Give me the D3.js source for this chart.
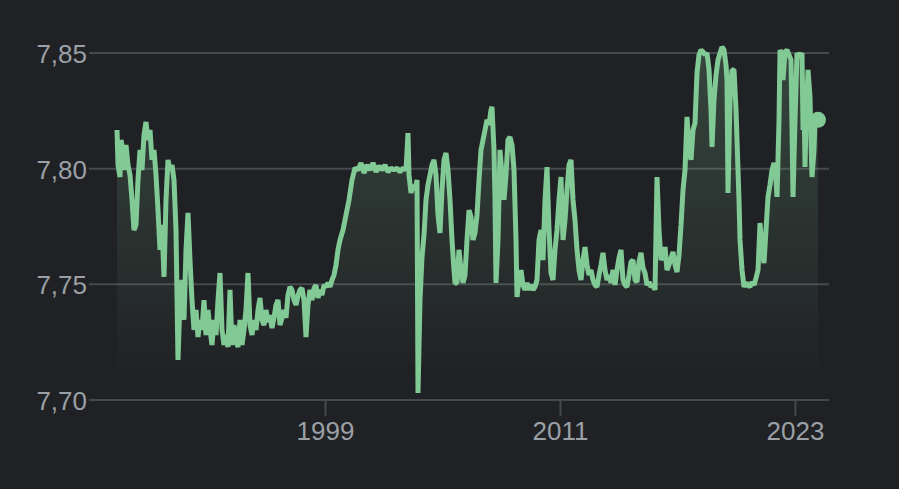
<!DOCTYPE html>
<html>
<head>
<meta charset="utf-8">
<script src="https://cdn.jsdelivr.net/npm/d3@7/dist/d3.min.js"></script>
<style>
  html, body { margin: 0; padding: 0; background: #202124; }
  svg { display: block; }
</style>
</head>
<body>
<svg id="chart" width="899" height="489"></svg>
<script>
// ---- Data (USD/HKD) ----
const dates = [
1988.377,1988.428,1988.530,1988.581,1988.683,1988.734,1988.837,1988.939,1989.041,1989.143,
1989.245,1989.347,1989.449,1989.552,1989.654,1989.756,1989.858,1989.960,1990.062,1990.164,
1990.267,1990.369,1990.471,1990.573,1990.675,1990.777,1990.879,1990.982,1991.084,1991.186,
1991.288,1991.390,1991.492,1991.594,1991.697,1991.799,1991.901,1992.003,1992.105,1992.207,
1992.309,1992.412,1992.514,1992.616,1992.718,1992.820,1992.922,1993.024,1993.127,1993.229,
1993.331,1993.433,1993.535,1993.637,1993.739,1993.842,1993.944,1994.046,1994.148,1994.250,
1994.352,1994.455,1994.557,1994.659,1994.761,1994.863,1994.965,1995.067,1995.170,1995.272,
1995.374,1995.476,1995.578,1995.680,1995.782,1995.885,1995.987,1996.089,1996.191,1996.293,
1996.395,1996.497,1996.600,1996.702,1996.804,1996.906,1997.008,1997.110,1997.212,1997.315,
1997.417,1997.519,1997.621,1997.723,1997.825,1997.927,1998.030,1998.132,1998.234,1998.336,
1998.438,1998.540,1998.642,1998.745,1998.847,1998.949,1999.051,1999.153,1999.255,1999.358,
1999.460,1999.562,1999.664,1999.766,1999.919,2000.073,2000.226,2000.379,2000.532,2000.685,
2000.839,2000.992,2001.145,2001.298,2001.452,2001.605,2001.758,2001.911,2002.064,2002.218,
2002.371,2002.524,2002.677,2002.830,2002.984,2003.137,2003.239,2003.290,2003.392,2003.494,
2003.597,2003.699,2003.750,2003.852,2003.954,2004.056,2004.158,2004.261,2004.363,2004.465,
2004.567,2004.669,2004.771,2004.873,2004.976,2005.078,2005.180,2005.282,2005.384,2005.486,
2005.588,2005.639,2005.742,2005.844,2005.946,2006.048,2006.150,2006.252,2006.355,2006.457,
2006.559,2006.661,2006.763,2006.865,2006.967,2007.070,2007.172,2007.274,2007.376,2007.478,
2007.529,2007.631,2007.682,2007.733,2007.836,2007.938,2008.040,2008.142,2008.244,2008.346,
2008.449,2008.551,2008.653,2008.755,2008.806,2008.908,2009.010,2009.112,2009.215,2009.317,
2009.419,2009.521,2009.623,2009.725,2009.827,2009.930,2010.032,2010.134,2010.236,2010.338,
2010.440,2010.542,2010.645,2010.747,2010.849,2010.951,2011.053,2011.155,2011.258,2011.360,
2011.462,2011.564,2011.666,2011.768,2011.870,2011.973,2012.075,2012.177,2012.279,2012.381,
2012.483,2012.585,2012.688,2012.790,2012.892,2012.994,2013.096,2013.198,2013.300,2013.403,
2013.505,2013.607,2013.709,2013.811,2013.913,2014.015,2014.118,2014.220,2014.322,2014.424,
2014.526,2014.628,2014.730,2014.833,2014.935,2015.037,2015.139,2015.241,2015.343,2015.446,
2015.548,2015.650,2015.752,2015.854,2015.956,2016.058,2016.161,2016.263,2016.365,2016.467,
2016.569,2016.671,2016.773,2016.876,2016.978,2017.080,2017.182,2017.284,2017.386,2017.488,
2017.591,2017.693,2017.795,2017.897,2017.999,2018.101,2018.203,2018.306,2018.408,2018.510,
2018.612,2018.714,2018.765,2018.867,2018.970,2019.072,2019.174,2019.276,2019.378,2019.480,
2019.531,2019.582,2019.685,2019.787,2019.889,2019.991,2020.042,2020.144,2020.195,2020.297,
2020.400,2020.502,2020.604,2020.706,2020.808,2020.910,2021.012,2021.115,2021.217,2021.319,
2021.421,2021.523,2021.625,2021.727,2021.830,2021.932,2022.034,2022.085,2022.187,2022.238,
2022.340,2022.391,2022.494,2022.596,2022.698,2022.800,2022.902,2023.004,2023.106,2023.209,
2023.311,2023.362,2023.413,2023.464,2023.515,2023.566,2023.668,2023.770,2023.821,2023.872,
2023.974,2024.025,2024.178
];
const rates = [
7.8167,7.8016,7.7964,7.8124,7.8081,7.7994,7.8102,7.8016,7.7973,7.7865,
7.7735,7.7757,7.7951,7.8081,7.7994,7.8146,7.8202,7.8124,7.8167,7.8038,
7.8081,7.7973,7.7821,7.7649,7.7757,7.7532,7.7865,7.8038,7.7994,7.8016,
7.7951,7.7735,7.7173,7.7432,7.7519,7.7346,7.7649,7.7809,7.7605,7.7432,
7.7303,7.7389,7.7272,7.7346,7.7303,7.7432,7.7281,7.7389,7.7303,7.7238,
7.7346,7.7281,7.7432,7.7549,7.7303,7.7238,7.7281,7.7229,7.7476,7.7238,
7.7324,7.7259,7.7229,7.7346,7.7238,7.7303,7.7389,7.7549,7.7324,7.7281,
7.7346,7.7303,7.7389,7.7441,7.7346,7.7324,7.7389,7.7337,7.7367,7.7311,
7.7355,7.7411,7.7432,7.7324,7.7355,7.7389,7.7355,7.7454,7.7489,7.7476,
7.7432,7.7411,7.7450,7.7476,7.7484,7.7432,7.7272,7.7411,7.7476,7.7432,
7.7484,7.7497,7.7441,7.7476,7.7454,7.7497,7.7489,7.7506,7.7489,7.7519,
7.7540,7.7584,7.7649,7.7692,7.7735,7.7800,7.7865,7.7951,7.8003,7.7994,
7.8025,7.7981,7.8016,7.7994,7.8025,7.7986,7.8012,7.7994,7.8016,7.7986,
7.8003,7.7994,7.8003,7.7986,7.8003,7.7994,7.8154,7.7973,7.7895,7.7930,
7.7908,7.7951,7.7030,7.7432,7.7618,7.7713,7.7865,7.7930,7.7973,7.8016,
7.8038,7.7973,7.7800,7.7722,7.7908,7.8038,7.8068,7.7994,7.7865,7.7692,
7.7562,7.7506,7.7506,7.7649,7.7562,7.7506,7.7540,7.7692,7.7821,7.7791,
7.7692,7.7722,7.7800,7.7951,7.8081,7.8124,7.8167,7.8211,7.8189,7.8254,
7.8267,7.8081,7.7865,7.7506,7.7692,7.8081,7.7973,7.7865,7.7973,7.8124,
7.8137,7.8102,7.7994,7.7692,7.7445,7.7519,7.7562,7.7497,7.7476,7.7506,
7.7476,7.7497,7.7476,7.7489,7.7519,7.7692,7.7735,7.7605,7.7865,7.8007,
7.7735,7.7549,7.7519,7.7649,7.7735,7.7865,7.7964,7.7692,7.7778,7.7908,
7.8016,7.8038,7.7865,7.7778,7.7649,7.7562,7.7519,7.7605,7.7661,7.7584,
7.7540,7.7562,7.7519,7.7497,7.7489,7.7540,7.7584,7.7636,7.7562,7.7519,
7.7540,7.7506,7.7562,7.7497,7.7562,7.7614,7.7649,7.7519,7.7497,7.7489,
7.7540,7.7597,7.7605,7.7519,7.7510,7.7597,7.7636,7.7571,7.7549,7.7497,
7.7510,7.7489,7.7497,7.7476,7.7964,7.7735,7.7605,7.7627,7.7661,7.7562,
7.7584,7.7614,7.7640,7.7584,7.7553,7.7627,7.7757,7.7908,7.7994,7.8224,
7.8081,7.8038,7.8167,7.8198,7.8414,7.8492,7.8513,7.8505,7.8492,7.8500,
7.8427,7.8254,7.8094,7.8297,7.8405,7.8470,7.8500,7.8526,7.8513,7.8448,
7.8383,7.7895,7.8297,7.8427,7.8427,7.8254,7.8124,7.7865,7.7692,7.7562,
7.7489,7.7506,7.7497,7.7489,7.7510,7.7497,7.7527,7.7562,7.7765,7.7649,
7.7592,7.7735,7.7878,7.7930,7.7994,7.8025,7.7951,7.7878,7.8211,7.8513,
7.8492,7.8383,7.8505,7.8513,7.8492,7.8470,7.7878,7.8211,7.8500,7.8483,
7.8492,7.8500,7.8167,7.8297,7.8007,7.8211,7.8427,7.8310,7.8124,7.7964,
7.8081,7.8211,7.8211
];
const yTickValues = [7.70, 7.75, 7.80, 7.85];
const xTickValues = [1999, 2011, 2023];

// ---- Styles / layout ----
const W = 899, H = 489;
const plot = { left: 117, right: 818, top: 53, bottom: 400 };
const gridLeft = 89, gridRight = 829, areaBottom = 367;
const lineColor = "#81c995";
const gridColor = "#45484c";
const textColor = "#9aa0a6";
const font = "'Liberation Sans', Arial, sans-serif";

const data = dates.map((d, i) => ({ t: d, v: rates[i] }));

const x = d3.scaleLinear().domain(d3.extent(dates)).range([plot.left, plot.right]);
const y = d3.scaleLinear().domain([7.70, 7.85]).range([plot.bottom, plot.top]);

const loc = d3.formatLocale({ decimal: ",", thousands: ".", grouping: [3], currency: ["", ""] });
const fmt = loc.format(".2f");

const svg = d3.select("#chart");
svg.append("rect").attr("width", W).attr("height", H).attr("fill", "#202124");

// gradient
const defs = svg.append("defs");
const grad = defs.append("linearGradient").attr("id", "fillGrad")
  .attr("gradientUnits", "userSpaceOnUse")
  .attr("x1", 0).attr("x2", 0).attr("y1", plot.top).attr("y2", areaBottom);
grad.append("stop").attr("offset", 0).attr("stop-color", lineColor).attr("stop-opacity", 0.22);
grad.append("stop").attr("offset", 1).attr("stop-color", lineColor).attr("stop-opacity", 0.01);

// gridlines
svg.append("g").selectAll("line").data(yTickValues).join("line")
  .attr("x1", gridLeft).attr("x2", gridRight)
  .attr("y1", d => y(d)).attr("y2", d => y(d))
  .attr("stroke", gridColor).attr("stroke-width", 2);

// y labels
svg.append("g").selectAll("text").data(yTickValues).join("text")
  .attr("x", 87).attr("y", d => y(d) + 10)
  .attr("text-anchor", "end")
  .attr("fill", textColor).attr("font-family", font).attr("font-size", 26)
  .text(d => fmt(d));

// x axis ticks
const xAxis = d3.axisBottom(x).tickValues(xTickValues).tickFormat(d3.format("d")).tickSize(16).tickPadding(6);
const gx = svg.append("g").attr("transform", `translate(0,${plot.bottom})`).call(xAxis);
gx.select(".domain").remove();
gx.selectAll(".tick line").attr("stroke", gridColor).attr("stroke-width", 2);
gx.selectAll(".tick text").attr("fill", textColor).attr("font-family", font).attr("font-size", 26);

// area
const area = d3.area().x(d => x(d.t)).y0(areaBottom).y1(d => y(d.v));
svg.append("path").datum(data).attr("d", area).attr("fill", "url(#fillGrad)");

// line
const line = d3.line().x(d => x(d.t)).y(d => y(d.v));
svg.append("path").datum(data).attr("d", line)
  .attr("fill", "none").attr("stroke", lineColor).attr("stroke-width", 5)
  .attr("stroke-linejoin", "bevel");

// end dot
const last = data[data.length - 1];
svg.append("circle").attr("cx", x(last.t)).attr("cy", y(last.v)).attr("r", 8).attr("fill", lineColor);
</script>
</body>
</html>
